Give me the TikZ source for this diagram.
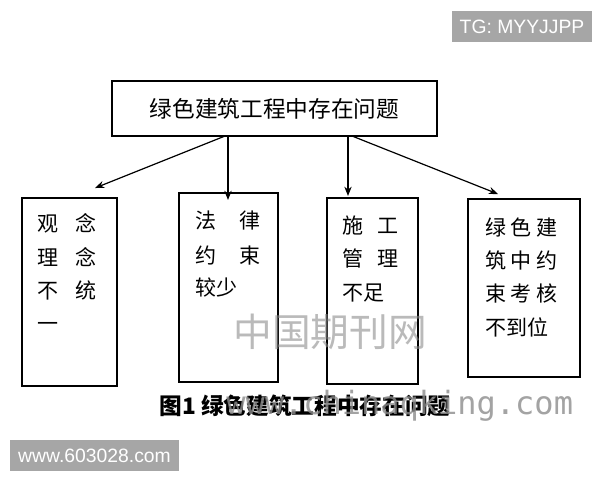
\documentclass[tikz,border=0pt]{standalone}
\usepackage{fontspec}
\setmainfont{Liberation Sans}
\newfontfamily\cjk{Noto Sans CJK SC}
\newfontfamily\wmono{DejaVu Sans Mono}
\usetikzlibrary{arrows.meta}
\definecolor{badgegray}{HTML}{A6A6A6}
\definecolor{wmgray}{HTML}{8C8C8C}
\tikzset{
  box/.style={draw=black, line width=1.3pt, fill=white, inner sep=0pt},
  conn/.style={draw=black, line width=0.9pt, -{Stealth[length=7pt,width=5.5pt]}},
  celltext/.style={anchor=base west, inner sep=0pt, font=\cjk\fontsize{15.75pt}{20pt}\selectfont},
  badge/.style={fill=badgegray, text=white, inner sep=0pt, font=\fontsize{14.5pt}{17pt}\selectfont},
}
\begin{document}
\begin{tikzpicture}[x=0.75pt,y=-0.75pt]
\useasboundingbox (0,0) rectangle (600,480);
\fill[white] (0,0) rectangle (600,480);

% top box
\node[box, minimum width=243.75pt, minimum height=41.25pt,
      font=\cjk\fontsize{17pt}{20pt}\selectfont] (top) at (274.5,108.5) {绿色建筑工程中存在问题};

% lower boxes
\node[box, minimum width=71.25pt, minimum height=141pt] (b1) at (69.5,292) {};
\node[box, minimum width=74.25pt, minimum height=141.75pt] (b2) at (228.5,287.5) {};
\node[box, minimum width=68.25pt, minimum height=139.5pt] (b3) at (372.5,291) {};
\node[box, minimum width=84pt, minimum height=133.5pt] (b4) at (524,288) {};

% box 1 text
\node[celltext] (t11) at (37,231) {观\hspace{12.75pt}念};
\node[celltext] (t12) at (37,265) {理\hspace{12.75pt}念};
\node[celltext] (t13) at (37,298) {不\hspace{12.75pt}统};
\node[celltext] (t14) at (37,331) {一};
% box 2 text
\node[celltext] (t21) at (195,228) {法\hspace{17.25pt}律};
\node[celltext] (t22) at (195,263) {约\hspace{17.25pt}束};
\node[celltext] (t23) at (195,295) {较少};
% box 3 text
\node[celltext] (t31) at (342,233) {施\hspace{10.5pt}工};
\node[celltext] (t32) at (342,266) {管\hspace{10.5pt}理};
\node[celltext] (t33) at (342,300) {不足};
% box 4 text
\node[celltext] (t41) at (485,235) {绿\hspace{3.5pt}色\hspace{3.5pt}建};
\node[celltext] (t42) at (485,268) {筑\hspace{3.5pt}中\hspace{3.5pt}约};
\node[celltext] (t43) at (485,301) {束\hspace{3.5pt}考\hspace{3.5pt}核};
\node[celltext] (t44) at (485,335) {不到位};

% connector end points
\coordinate (s1) at (225,136);
\coordinate (s2) at (228,136);
\coordinate (s3) at (348,136);
\coordinate (s4) at (352,136);
\coordinate (e1) at (95,188);
\coordinate (e2) at (228,200);
\coordinate (e3) at (348,196);
\coordinate (e4) at (498,194);
\draw[conn] (s1) -- (e1);
\draw[conn] (s2) -- (e2);
\draw[conn] (s3) -- (e3);
\draw[conn] (s4) -- (e4);

% caption
\node[inner sep=0pt, font=\cjk\bfseries\fontsize{17pt}{20pt}\selectfont] (cap) at (305,406) {图1 绿色建筑工程中存在问题};

% watermarks
\node[inner sep=0pt, text=wmgray, opacity=0.6, font=\cjk\fontsize{29pt}{32pt}\selectfont] (wm1) at (330,332) {中国期刊网};
\node[anchor=base west, inner sep=0pt, text=wmgray, opacity=0.8, font=\wmono\fontsize{24pt}{28pt}\selectfont] (wm2) at (226,414) {www.chinaqking.com};

% badges
\node[badge, minimum width=105pt, minimum height=23.25pt] (tg) at (522,26.5) {TG: MYYJJPP};
\node[badge, minimum width=126.75pt, minimum height=23.25pt] (site) at (94.5,455.5) {www.603028.com};
\end{tikzpicture}
\end{document}
